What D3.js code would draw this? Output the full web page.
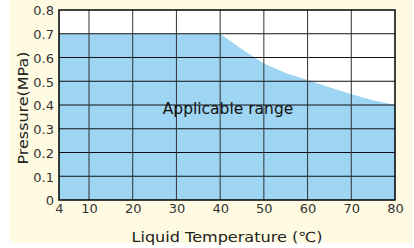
<!DOCTYPE html>
<html>
<head>
<meta charset="utf-8">
<script src="https://cdn.jsdelivr.net/npm/d3@7"></script>
<style>
  body { margin: 0; background: #fff; }
  svg { display: block; }
</style>
</head>
<body>
<div id="chart"></div>
<script>
// Data
const tempTicks = [4, 10, 20, 30, 40, 50, 60, 70, 80];
const pressureTicks = [0, 0.1, 0.2, 0.3, 0.4, 0.5, 0.6, 0.7, 0.8];
const rangeTemp = [4, 40, 45, 50, 55, 60, 65, 70, 75, 80];
const rangePressure = [0.7, 0.7, 0.635, 0.575, 0.535, 0.505, 0.475, 0.445, 0.42, 0.40];
const areaLabel = "Applicable range";
const xTitle = "Liquid Temperature (℃)";
const yTitle = "Pressure(MPa)";

const W = 414, H = 248;
const plot = { left: 59, right: 395, top: 10, bottom: 200 };
const font = "'DejaVu Sans', sans-serif";

const svg = d3.select("#chart").append("svg")
    .attr("width", W)
    .attr("height", H);

// cream panel
svg.append("rect")
    .attr("x", 10).attr("y", 0)
    .attr("width", 402).attr("height", 243)
    .attr("fill", "#fffbe3");

// Scales (first segment 4-10 is stretched on the original)
const x = d3.scaleLinear()
    .domain([4, 10, 80])
    .range([plot.left, 89, plot.right]);

const y = d3.scaleLinear()
    .domain([0, 0.8])
    .range([plot.bottom, plot.top]);

// plot background
svg.append("rect")
    .attr("x", plot.left).attr("y", plot.top)
    .attr("width", plot.right - plot.left)
    .attr("height", plot.bottom - plot.top)
    .attr("fill", "#fff");

// applicable area
const pts = rangeTemp.map((t, i) => [t, rangePressure[i]]);
const area = d3.area()
    .x(d => x(d[0]))
    .y0(y(0))
    .y1(d => y(d[1]));

svg.append("path")
    .datum(pts)
    .attr("d", area)
    .attr("fill", "#9dd5f2");

// Grid
const grid = svg.append("g");
grid.selectAll(".hgrid")
    .data(pressureTicks.slice(1, -1))
    .enter().append("line")
    .attr("class", "hgrid")
    .attr("x1", plot.left).attr("x2", plot.right)
    .attr("y1", d => y(d)).attr("y2", d => y(d))
    .attr("stroke", "#111")
    .attr("stroke-width", 1);

grid.selectAll(".vgrid")
    .data(tempTicks.slice(1, -1))
    .enter().append("line")
    .attr("class", "vgrid")
    .attr("x1", d => x(d)).attr("x2", d => x(d))
    .attr("y1", plot.top).attr("y2", plot.bottom)
    .attr("stroke", "#333")
    .attr("stroke-width", 1);

// frame
svg.append("rect")
    .attr("x", plot.left).attr("y", plot.top)
    .attr("width", plot.right - plot.left)
    .attr("height", plot.bottom - plot.top)
    .attr("fill", "none")
    .attr("stroke", "#000")
    .attr("stroke-width", 1.5);

// Axes
const xAxis = svg.append("g")
    .attr("transform", `translate(0,${plot.bottom})`)
    .call(d3.axisBottom(x).tickValues(tempTicks).tickSize(0).tickPadding(4).tickFormat(d3.format("d")))
    .call(g => g.select(".domain").remove());

xAxis.selectAll("text")
    .attr("fill", "#333")
    .style("font-family", font)
    .style("font-size", "13px");

const yAxis = svg.append("g")
    .attr("transform", `translate(${plot.left},0)`)
    .call(d3.axisLeft(y).tickValues(pressureTicks).tickSize(0).tickPadding(5).tickFormat(d => d === 0 ? "0" : d3.format(".1f")(d)))
    .call(g => g.select(".domain").remove());

yAxis.selectAll("text")
    .attr("fill", "#333")
    .attr("dy", "0.38em")
    .style("font-family", font)
    .style("font-size", "13px");

// Titles
svg.append("text")
    .attr("x", 227).attr("y", 242)
    .attr("text-anchor", "middle")
    .attr("fill", "#222")
    .attr("textLength", 191)
    .attr("lengthAdjust", "spacingAndGlyphs")
    .style("font-family", font)
    .style("font-size", "14px")
    .text(xTitle);

svg.append("text")
    .attr("transform", "translate(28,108) rotate(-90)")
    .attr("text-anchor", "middle")
    .attr("fill", "#222")
    .attr("textLength", 113)
    .attr("lengthAdjust", "spacingAndGlyphs")
    .style("font-family", font)
    .style("font-size", "14px")
    .text(yTitle);

svg.append("text")
    .attr("x", 228).attr("y", 114)
    .attr("text-anchor", "middle")
    .attr("fill", "#111")
    .style("font-family", font)
    .style("font-size", "15.5px")
    .text(areaLabel);
</script>
</body>
</html>
